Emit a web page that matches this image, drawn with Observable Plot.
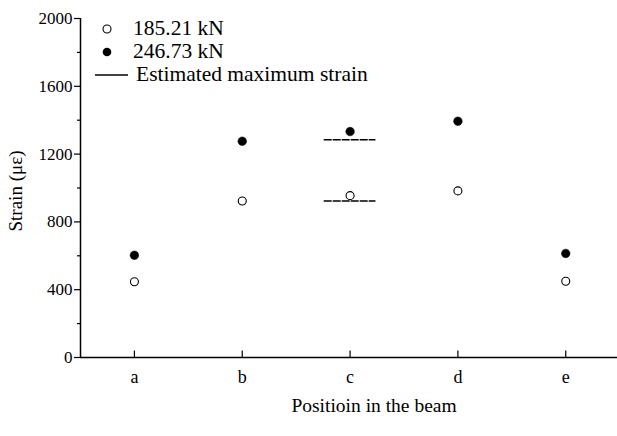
<!DOCTYPE html>
<html>
<head>
<meta charset="utf-8">
<script src="https://cdn.jsdelivr.net/npm/d3@7"></script>
<script src="https://cdn.jsdelivr.net/npm/@observablehq/plot@0.6"></script>
<style>
  html, body { margin: 0; padding: 0; background: #fff; }
  #wrap { position: relative; width: 617px; height: 436px; font-family: "Liberation Serif", "Times New Roman", serif; }
  #legend { position: absolute; left: 0; top: 0; font-size: 21.5px; color: #000; }
  .li { position: absolute; white-space: nowrap; line-height: 1; }
</style>
</head>
<body>
<div id="wrap"></div>
<script>
const positions = ["a", "b", "c", "d", "e"];
const load1 = [447, 923, 955, 983, 450];     // 185.21 kN
const load2 = [603, 1276, 1333, 1394, 614];  // 246.73 kN
const estimatedPos = ["c", "c"];
const estimatedValues = [1284, 923];
const seriesNames = ["185.21 kN", "246.73 kN", "Estimated maximum strain"];
const yTicks = [0, 400, 800, 1200, 1600, 2000];
const yMinorTicks = [200, 600, 1000, 1400, 1800];
const yTitle = "Strain (\u03bc\u03b5)";
const xTitle = "Positioin in the beam";

const idx = p => positions.indexOf(p);
const s1 = positions.map((p, i) => ({pos: p, i, v: load1[i]}));
const s2 = positions.map((p, i) => ({pos: p, i, v: load2[i]}));
const est = estimatedPos.map((p, k) => ({i: idx(p), v: estimatedValues[k]}));
const halfW = 0.24;

const chart = Plot.plot({
  width: 617,
  height: 436,
  marginLeft: 80,
  marginRight: 0,
  marginTop: 18,
  marginBottom: 79,
  style: {fontFamily: "Liberation Serif, Times New Roman, serif", fontSize: "16px", color: "#000", background: "#fff"},
  x: {domain: [-0.5, 4.48]},
  y: {domain: [0, 2000]},
  marks: [
    Plot.axisY({ticks: yTicks, tickSize: 6, tickPadding: 2, label: null, tickFormat: d3.format("d"), fontSize: 17, strokeWidth: 1.2}),
    Plot.axisY({ticks: yMinorTicks, tickSize: 3, text: null, label: null, strokeWidth: 1.2}),
    Plot.axisX({ticks: positions.map((p, i) => i), tickSize: 0, tickPadding: 13, tickFormat: i => positions[i], label: null, fontSize: 18}),
    Plot.ruleX(positions.map((p, i) => i), {x: d => d, y1: 0, y2: 38, strokeWidth: 1.2}),
    Plot.ruleX([-0.5], {y1: 0, y2: 2000, strokeWidth: 1.5}),
    Plot.ruleY([0], {strokeWidth: 1.5}),
    Plot.ruleY(est, {y: "v", x1: d => d.i - halfW, x2: d => d.i + halfW, stroke: "#000", strokeWidth: 1.5, strokeDasharray: "8,1"}),
    Plot.dot(s1, {x: "i", y: "v", r: 4, fill: "#fff", stroke: "#000", strokeWidth: 1.1}),
    Plot.dot(s2, {x: "i", y: "v", r: 4.3, fill: "#000", stroke: "#000", strokeWidth: 0.5}),
    Plot.text([yTitle], {frameAnchor: "left", dx: -65, dy: 3, rotate: -90, textAnchor: "middle", lineAnchor: "middle", fontSize: 19}),
    Plot.text([xTitle], {frameAnchor: "bottom", dx: 25, dy: 48, textAnchor: "middle", lineAnchor: "middle", fontSize: 19.5})
  ]
});

const wrap = document.getElementById("wrap");
wrap.appendChild(chart);

// legend overlay
const legend = document.createElement("div");
legend.id = "legend";
legend.innerHTML = `
  <svg style="position:absolute;left:0;top:0" width="140" height="90">
    <circle cx="107" cy="29" r="4" fill="#fff" stroke="#000" stroke-width="1.1"></circle>
    <circle cx="107" cy="52" r="4.3" fill="#000"></circle>
    <line x1="95" x2="128" y1="75" y2="75" stroke="#000" stroke-width="1.3"></line>
  </svg>
  <div class="li" style="left:133px;top:18px">${seriesNames[0]}</div>
  <div class="li" style="left:133px;top:41px">${seriesNames[1]}</div>
  <div class="li" style="left:136px;top:64px">${seriesNames[2]}</div>
`;
wrap.appendChild(legend);
</script>
</body>
</html>
